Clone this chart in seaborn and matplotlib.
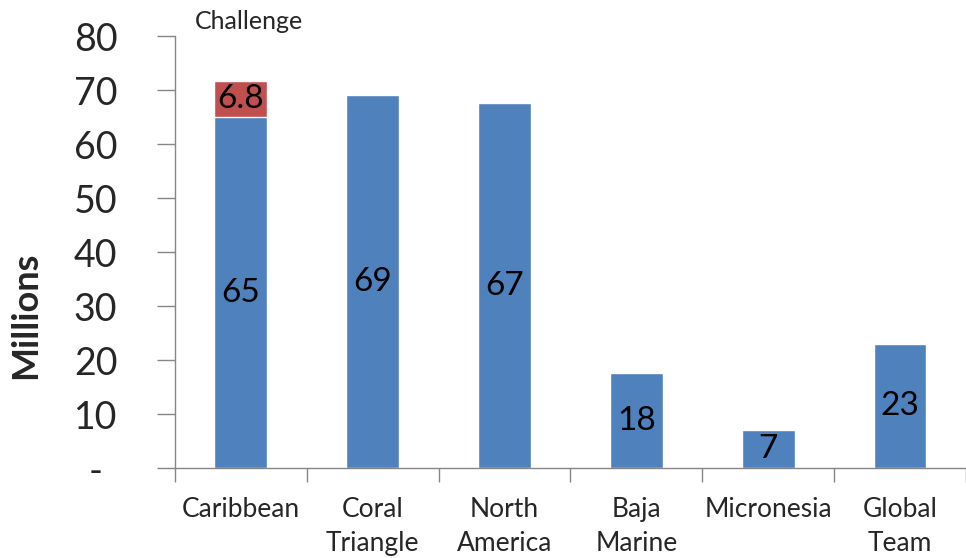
import matplotlib
matplotlib.use("Agg")
import matplotlib.pyplot as plt
import numpy as np
import pandas as pd
import seaborn as sns

regions = ["Caribbean", "Coral\nTriangle", "North\nAmerica", "Baja\nMarine", "Micronesia", "Global\nTeam"]
funded = [65, 69.1, 67.6, 17.6, 7.0, 23.0]
funded_labels = ["65", "69", "67", "18", "7", "23"]
challenge = [6.8, 0, 0, 0, 0, 0]
challenge_labels = ["6.8", "", "", "", "", ""]
y_ticks = [0, 10, 20, 30, 40, 50, 60, 70, 80]
y_tick_labels = ["-", "10", "20", "30", "40", "50", "60", "70", "80"]

BLUE = "#4F81BD"
RED = "#C0504D"
GREY = "#868686"

sns.set_theme(style="white")
plt.rcParams["font.family"] = ["Lato", "DejaVu Sans"]

df = pd.DataFrame({"region": regions, "funded": funded, "challenge": challenge})
df["total"] = df["funded"] + df["challenge"]

fig = plt.figure(figsize=(9.66, 5.58), dpi=100)
ax = fig.add_axes([0.181, 0.161, 0.819, 0.774])

# red (challenge) drawn as total height, blue (funded) on top of it
sns.barplot(ax=ax, data=df, x="region", y="total", color=RED, width=0.4, saturation=1)
sns.barplot(ax=ax, data=df, x="region", y="funded", color=BLUE, width=0.4, saturation=1)

for i, row in df.iterrows():
    ax.text(i, row["funded"] / 2, funded_labels[i], ha="center", va="center", fontsize=24, color="black")
    if row["challenge"] > 0:
        ax.text(i, row["funded"] + row["challenge"] / 2, challenge_labels[i],
                ha="center", va="center", fontsize=24, color="black")

ax.set_xlim(-0.5, len(regions) - 0.5)
ax.set_ylim(0, 80)
ax.set_yticks(y_ticks)
ax.set_yticklabels(y_tick_labels, fontsize=27)
ax.set_xticks(np.arange(len(regions)))
ax.set_xticklabels(regions, fontsize=19, linespacing=1.45, va="top")
ax.tick_params(axis="x", length=0, pad=21)
ax.tick_params(axis="y", left=True, length=13, width=1, color=GREY, pad=44)
for lbl in ax.get_yticklabels():
    lbl.set_horizontalalignment("center")

# tick marks between categories on the x axis
ax.set_xticks(np.arange(-0.5, len(regions)), minor=True)
ax.tick_params(axis="x", which="minor", bottom=True, length=10, width=1, color=GREY)

ax.set_xlabel("")
ax.set_ylabel("Millions", fontsize=26, fontweight="bold")
ax.yaxis.set_label_coords(-0.168, 0.354)

sns.despine(ax=ax)
for side in ["left", "bottom"]:
    ax.spines[side].set_color(GREY)
    ax.spines[side].set_linewidth(1)

fig.text(0.202, 0.961, "Challenge", fontsize=18, ha="left", va="center")

fig.savefig("out.png", dpi=100)
